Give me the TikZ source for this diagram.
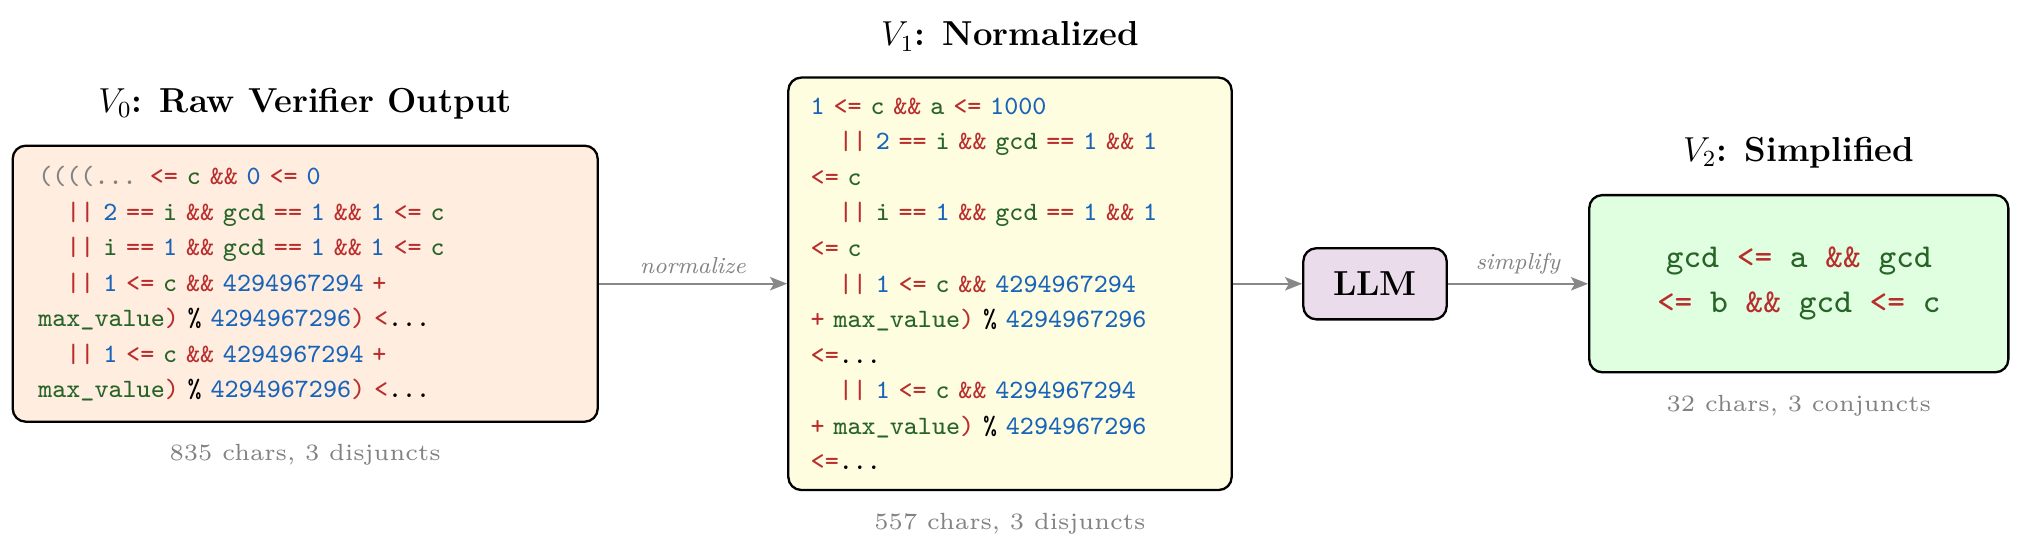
\documentclass[tikz,border=0pt]{standalone}
\usetikzlibrary{arrows.meta}
\DeclareFontFamily{TU}{lmttviii}{\hyphenchar\font=-1 }
\DeclareFontShape{TU}{lmttviii}{m}{n}{<-> "[lmmono8-regular]"}{}
\DeclareFontFamily{TU}{lmrvi}{}
\DeclareFontShape{TU}{lmrvi}{m}{n}{<-> "[lmroman6-regular]:mapping=tex-text"}{}
\definecolor{cred}{RGB}{185,45,45}
\definecolor{cgreen}{RGB}{40,100,40}
\definecolor{cblue}{RGB}{25,100,185}
\definecolor{cgray}{RGB}{130,130,130}
\definecolor{fpeach}{RGB}{255,238,224}
\definecolor{fyellow}{RGB}{255,253,224}
\definecolor{fgreen}{RGB}{224,255,224}
\definecolor{fpurple}{RGB}{235,220,236}
\definecolor{arrgray}{RGB}{136,136,136}
\newcommand\cR[1]{\textcolor{cred}{#1}}
\newcommand\cG[1]{\textcolor{cgreen}{#1}}
\newcommand\cB[1]{\textcolor{cblue}{#1}}
\newcommand\cY[1]{\textcolor{cgray}{#1}}
\newcommand\ind{\hphantom{xx}}
\newcommand\codefnt{\fontfamily{lmttviii}\selectfont}
\newcommand\capfnt{\fontfamily{lmrvi}\fontsize{8.1}{10}\selectfont}
\tikzset{
  codebox/.style={draw=black, line width=0.8pt, rounded corners=4.5pt, align=left,
    font=\fontsize{9.16}{12.3}\codefnt},
  ttl/.style={anchor=base, font=\large\bfseries, inner sep=0pt},
  capt/.style={anchor=base, font=\capfnt, text=cgray, inner sep=0pt},
  arr/.style={draw=arrgray, line width=0.8pt, -{Stealth[length=5.9pt,width=4.6pt,inset=1.3pt]}},
  elab/.style={above, font=\footnotesize\itshape, text=cgray, inner sep=3pt},
  llmbox/.style={draw=black, line width=0.8pt, rounded corners=4.5pt, fill=fpurple,
    minimum width=49.6pt, minimum height=24.6pt, inner sep=0pt, font=\large\bfseries}
}
\begin{document}
\begin{tikzpicture}[x=0.346pt, y=-0.346pt]
\useasboundingbox (0,0) rectangle (2023,560);

% V0
\node[codebox, fill=fpeach, inner xsep=8.85pt, text width=184.7pt, minimum height=95.5pt]
  (v0) at (305.2,283.7) {%
\cY{((((...} \cR{<=} \cG{c} \cR{\&\&} \cB{0} \cR{<=} \cB{0}\\
\ind\cR{||} \cB{2} \cR{==} \cG{i} \cR{\&\&} \cG{gcd} \cR{==} \cB{1} \cR{\&\&} \cB{1} \cR{<=} \cG{c}\\
\ind\cR{||} \cG{i} \cR{==} \cB{1} \cR{\&\&} \cG{gcd} \cR{==} \cB{1} \cR{\&\&} \cB{1} \cR{<=} \cG{c}\\
\ind\cR{||} \cB{1} \cR{<=} \cG{c} \cR{\&\&} \cB{4294967294} \cR{+}\\
\cG{max\_value}\cR{)} \% \cB{4294967296}\cR{)} \cR{<}...\\
\ind\cR{||} \cB{1} \cR{<=} \cG{c} \cR{\&\&} \cB{4294967294} \cR{+}\\
\cG{max\_value}\cR{)} \% \cB{4294967296}\cR{)} \cR{<}...};
\node[ttl] (t0) at (305.2,112.7) {$V_0$: Raw Verifier Output};
\node[capt] (c0) at (305.2,461) {835 chars, 3 disjuncts};

% V1
\node[codebox, fill=fyellow, inner xsep=7.75pt, text width=137.9pt, minimum height=142.7pt]
  (v1) at (1010,283.8) {%
\cB{1} \cR{<=} \cG{c} \cR{\&\&} \cG{a} \cR{<=} \cB{1000}\\
\ind\cR{||} \cB{2} \cR{==} \cG{i} \cR{\&\&} \cG{gcd} \cR{==} \cB{1} \cR{\&\&} \cB{1}\\
\cR{<=} \cG{c}\\
\ind\cR{||} \cG{i} \cR{==} \cB{1} \cR{\&\&} \cG{gcd} \cR{==} \cB{1} \cR{\&\&} \cB{1}\\
\cR{<=} \cG{c}\\
\ind\cR{||} \cB{1} \cR{<=} \cG{c} \cR{\&\&} \cB{4294967294}\\
\cR{+} \cG{max\_value}\cR{)} \% \cB{4294967296}\\
\cR{<=}...\\
\ind\cR{||} \cB{1} \cR{<=} \cG{c} \cR{\&\&} \cB{4294967294}\\
\cR{+} \cG{max\_value}\cR{)} \% \cB{4294967296}\\
\cR{<=}...};
\node[ttl] (t1) at (1010,46) {$V_1$: Normalized};
\node[capt] (c1) at (1010,529.3) {557 chars, 3 disjuncts};

% LLM
\node[llmbox] (llm) at (1375,283.8) {LLM};

% V2
\node[codebox, fill=fgreen, align=center, minimum width=145pt, minimum height=61.3pt,
  font=\fontsize{11.55}{15.6}\codefnt]
  (v2) at (1798.8,283.7) {%
\cG{gcd} \cR{<=} \cG{a} \cR{\&\&} \cG{gcd}\\
\cR{<=} \cG{b} \cR{\&\&} \cG{gcd} \cR{<=} \cG{c}};
\node[ttl] (t2) at (1798.8,161.7) {$V_2$: Simplified};
\node[capt] (c2) at (1798.8,411.6) {32 chars, 3 conjuncts};

% arrows
\draw[arr] (v0.east) -- node[elab] {normalize} (v0.east -| v1.west);
\draw[arr] (v1.east |- llm.west) -- (llm.west);
\draw[arr] (llm.east) -- node[elab] {simplify} (llm.east -| v2.west);
\end{tikzpicture}
\end{document}
